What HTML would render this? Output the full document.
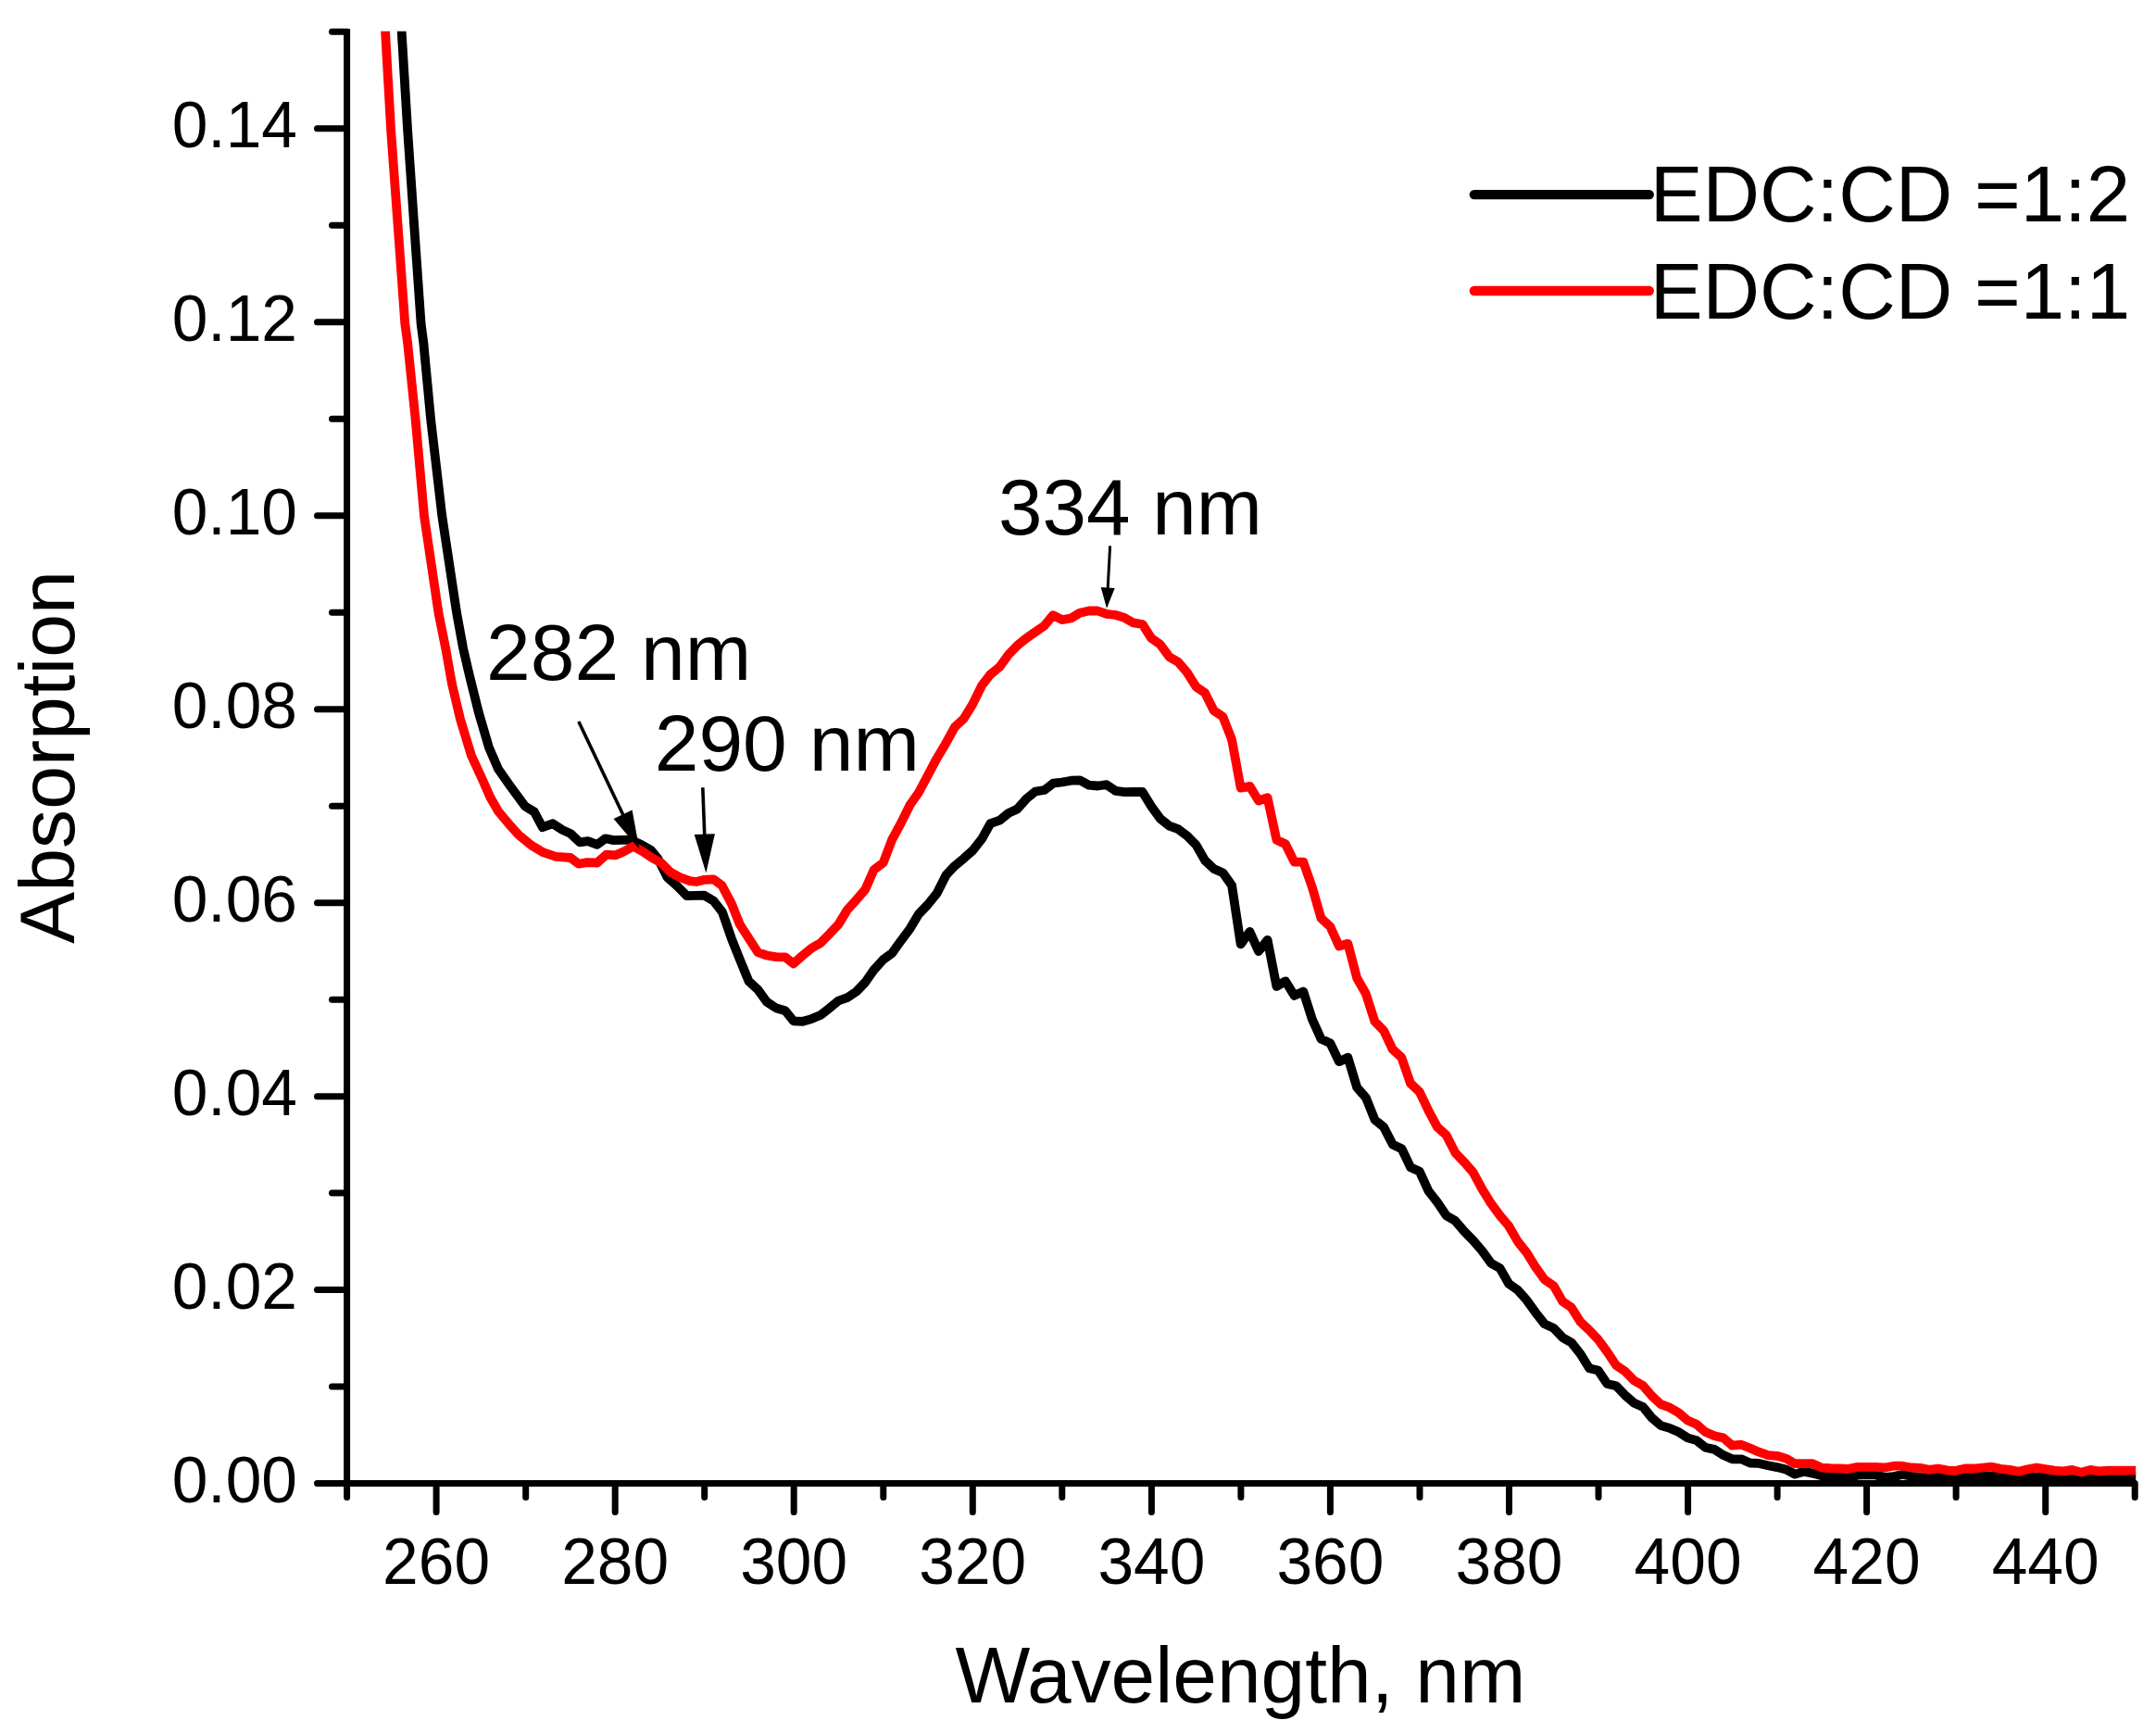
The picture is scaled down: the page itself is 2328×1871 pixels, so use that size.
<!DOCTYPE html>
<html lang="en"><head><meta charset="utf-8"><title>Absorption spectra</title>
<style>html,body{margin:0;padding:0;background:#fff}svg{display:block}text{font-family:"Liberation Sans",Arial,sans-serif;fill:#000}</style></head><body>
<svg width="2328" height="1871" viewBox="0 0 2328 1871">
<rect width="2328" height="1871" fill="#fff"/>
<defs><clipPath id="plot"><rect x="374.6" y="33.8" width="1931.6" height="1577.3"/></clipPath></defs>
<g clip-path="url(#plot)" fill="none" stroke-linejoin="round" stroke-linecap="butt" stroke-width="9.8">
<path stroke="#000" d="M429.1 -40.0 L433.5 31.2 L440.1 140.3 L447.3 244.9 L454.6 349.5 L457.3 370.0 L465.1 452.4 L477.3 557.0 L493.1 661.7 L500.1 700.0 L506.8 728.9 L516.8 769.0 L527.9 806.9 L538.0 830.2 L551.3 849.2 L566.9 870.3 L576.9 876.5 L585.8 893.2 L597.0 889.2 L607.0 895.9 L615.9 899.9 L625.9 909.3 L634.8 908.2 L644.8 911.9 L653.7 905.3 L662.6 907.1 L680.4 906.6 L691.6 911.5 L702.7 917.7 L710.5 927.1 L720.5 947.1 L731.7 957.1 L741.7 967.2 L760.6 966.7 L770.6 972.7 L780.0 984.8 L790.0 1013.7 L798.9 1036.0 L808.5 1059.4 L818.3 1068.3 L827.9 1081.6 L837.9 1088.3 L847.9 1091.2 L856.8 1102.3 L866.8 1102.8 L876.2 1100.1 L885.8 1096.1 L895.8 1088.3 L905.3 1080.5 L914.7 1077.2 L924.7 1070.5 L934.3 1060.5 L943.6 1047.1 L953.7 1036.0 L963.0 1029.3 L972.6 1016.0 L982.6 1002.6 L991.9 987.0 L1001.5 977.0 L1011.5 964.7 L1021.6 944.7 L1031.1 934.7 L1040.5 926.9 L1050.5 918.0 L1060.1 905.8 L1069.4 889.1 L1079.4 885.7 L1089.0 877.9 L1098.4 873.5 L1108.4 862.3 L1118.0 854.5 L1127.8 853.0 L1137.3 845.6 L1146.9 844.5 L1156.7 842.7 L1165.9 842.3 L1175.7 847.6 L1185.3 848.5 L1194.9 847.2 L1204.7 853.9 L1214.2 855.2 L1223.8 854.8 L1233.6 855.0 L1243.2 870.6 L1252.8 883.9 L1262.6 891.7 L1272.1 895.1 L1281.8 902.4 L1291.6 912.4 L1301.2 929.1 L1310.7 938.0 L1320.5 942.4 L1330.1 955.8 L1339.7 1019.3 L1349.5 1005.9 L1359.0 1027.1 L1368.6 1014.8 L1378.4 1064.9 L1388.0 1059.3 L1397.6 1074.9 L1407.3 1070.5 L1416.9 1100.5 L1426.5 1121.7 L1436.3 1126.1 L1445.9 1146.2 L1455.4 1141.7 L1465.2 1174.0 L1475.0 1185.2 L1484.5 1209.0 L1494.1 1216.8 L1503.9 1235.7 L1513.5 1240.2 L1523.0 1260.2 L1532.8 1264.7 L1542.4 1285.8 L1552.0 1298.1 L1561.8 1312.5 L1571.4 1318.1 L1580.9 1329.2 L1590.7 1339.2 L1600.3 1350.4 L1609.9 1363.7 L1619.7 1369.3 L1629.2 1386.0 L1638.8 1392.7 L1648.6 1403.8 L1658.2 1417.2 L1667.8 1429.4 L1677.6 1433.9 L1687.1 1443.9 L1696.7 1449.4 L1706.5 1461.7 L1716.1 1477.3 L1725.6 1479.5 L1735.4 1494.0 L1745.0 1496.2 L1754.6 1506.2 L1764.5 1514.8 L1774.1 1519.0 L1783.7 1530.8 L1793.4 1539.1 L1803.0 1541.9 L1812.6 1546.1 L1822.3 1552.4 L1831.9 1555.1 L1841.5 1562.8 L1851.3 1564.9 L1860.9 1571.1 L1870.5 1575.3 L1880.2 1575.3 L1889.8 1579.5 L1899.4 1579.9 L1909.2 1582.3 L1918.8 1584.1 L1928.4 1586.4 L1938.1 1591.6 L1947.7 1588.8 L1957.3 1590.6 L1967.1 1593.4 L1976.7 1594.4 L1986.4 1594.8 L1996.0 1595.2 L2005.6 1592.7 L2015.3 1592.0 L2024.9 1592.4 L2034.9 1594.8 L2044.6 1594.1 L2054.2 1592.0 L2063.9 1593.8 L2073.5 1594.9 L2083.2 1595.5 L2092.8 1594.4 L2102.5 1595.5 L2112.1 1595.8 L2121.8 1594.7 L2131.4 1594.4 L2141.1 1593.8 L2150.8 1593.5 L2160.4 1594.7 L2170.1 1595.5 L2179.7 1596.0 L2189.4 1595.2 L2199.0 1594.4 L2208.7 1594.9 L2218.3 1595.5 L2228.0 1596.0 L2237.6 1595.5 L2247.3 1596.6 L2256.9 1595.5 L2266.6 1595.8 L2276.2 1595.5 L2285.9 1595.5 L2295.5 1595.5 L2305.2 1595.5 L2320.0 1595.5"/>
<path stroke="#f00" d="M411.8 -40.0 L415.9 31.2 L422.1 140.3 L429.7 244.9 L437.3 349.5 L440.1 370.0 L448.6 452.4 L458.0 557.0 L473.5 661.7 L481.2 700.0 L487.9 737.8 L496.8 775.7 L509.0 815.8 L521.3 842.5 L529.1 860.3 L538.0 875.9 L549.1 889.2 L560.2 901.5 L573.6 912.6 L586.9 920.4 L600.3 924.9 L615.9 926.0 L624.8 932.7 L633.7 931.1 L644.8 931.5 L654.8 922.6 L664.9 923.3 L673.8 919.3 L683.8 913.7 L693.8 919.3 L703.8 926.0 L713.8 931.5 L723.9 941.6 L733.9 947.1 L745.0 951.1 L751.7 952.0 L760.6 949.8 L770.6 949.4 L779.5 956.0 L790.0 975.9 L798.9 998.1 L808.9 1013.7 L818.3 1028.2 L827.9 1031.5 L837.9 1033.1 L847.9 1033.3 L856.8 1040.4 L866.8 1031.5 L876.2 1023.7 L885.8 1018.2 L895.8 1008.2 L905.3 998.1 L914.7 982.6 L924.7 971.4 L934.3 960.3 L943.6 939.1 L953.7 931.4 L963.0 906.9 L972.6 889.1 L982.6 869.0 L991.9 855.7 L1001.5 837.8 L1011.5 818.9 L1021.2 802.7 L1031.0 784.9 L1040.6 776.0 L1050.2 760.4 L1060.0 740.3 L1069.5 728.1 L1079.1 720.3 L1088.9 706.9 L1098.5 696.9 L1108.1 689.1 L1117.8 682.4 L1127.4 675.8 L1137.0 664.2 L1146.8 669.1 L1156.4 667.5 L1165.9 661.7 L1175.7 659.5 L1185.3 659.5 L1194.9 662.9 L1204.7 664.0 L1214.2 666.9 L1223.8 672.4 L1233.6 674.0 L1243.2 689.1 L1252.8 695.8 L1262.6 709.2 L1272.1 714.7 L1281.7 725.9 L1291.5 741.4 L1301.1 748.1 L1310.6 767.1 L1320.4 773.7 L1330.0 798.2 L1339.7 850.7 L1349.5 848.9 L1359.0 864.5 L1368.6 861.2 L1378.4 906.8 L1388.0 911.3 L1397.6 930.6 L1407.3 930.6 L1416.9 958.0 L1426.5 991.4 L1436.3 1000.3 L1445.9 1021.5 L1455.4 1018.8 L1465.2 1056.0 L1474.8 1072.7 L1484.4 1102.7 L1494.2 1112.8 L1503.7 1132.8 L1513.3 1141.7 L1523.0 1169.6 L1532.8 1178.9 L1542.4 1199.0 L1552.0 1216.8 L1561.8 1225.7 L1571.4 1244.6 L1580.9 1254.6 L1590.7 1265.8 L1600.3 1283.6 L1609.9 1299.2 L1619.7 1312.5 L1629.2 1323.7 L1638.8 1340.4 L1648.6 1352.6 L1658.2 1368.2 L1667.8 1381.5 L1677.6 1388.2 L1687.1 1404.9 L1696.7 1411.6 L1706.5 1427.2 L1716.1 1436.1 L1725.6 1446.1 L1735.4 1459.5 L1745.0 1473.9 L1754.6 1480.6 L1764.5 1490.4 L1774.1 1496.0 L1783.7 1507.1 L1793.4 1516.2 L1803.0 1519.7 L1812.6 1525.2 L1822.3 1533.6 L1831.9 1537.7 L1841.5 1546.1 L1851.3 1550.3 L1860.9 1552.4 L1870.5 1560.7 L1880.2 1559.7 L1889.8 1563.5 L1899.4 1567.7 L1909.2 1571.1 L1918.8 1571.8 L1928.4 1574.6 L1938.1 1580.2 L1947.7 1580.2 L1957.3 1580.2 L1967.1 1584.6 L1976.7 1585.1 L1986.4 1585.3 L1996.0 1585.8 L2005.6 1583.9 L2015.3 1583.9 L2024.9 1583.9 L2034.9 1584.5 L2044.6 1582.7 L2054.2 1582.7 L2063.9 1584.5 L2073.5 1584.8 L2083.2 1586.9 L2092.8 1585.5 L2102.5 1587.3 L2112.1 1587.8 L2121.8 1585.5 L2131.4 1585.5 L2141.1 1584.5 L2150.8 1583.7 L2160.4 1585.9 L2170.1 1586.9 L2179.7 1588.7 L2189.4 1586.2 L2199.0 1584.5 L2208.7 1586.2 L2218.3 1587.6 L2228.0 1588.3 L2237.6 1586.9 L2247.3 1589.6 L2256.9 1586.9 L2266.6 1588.3 L2276.2 1587.6 L2285.9 1587.6 L2295.5 1587.6 L2305.2 1587.6 L2320.0 1587.6"/>
</g>
<g stroke="#000" stroke-width="7.0" stroke-linecap="round" fill="none">
<path d="M374.6 31.3 V1601.6 H2306.7" stroke-linejoin="miter" stroke-linecap="butt"/>
<path d="M374.6 1601.6 H342.5 M374.6 1497.1 H358.5 M374.6 1392.6 H342.5 M374.6 1288.1 H358.5 M374.6 1183.7 H342.5 M374.6 1079.2 H358.5 M374.6 974.7 H342.5 M374.6 870.2 H358.5 M374.6 765.7 H342.5 M374.6 661.2 H358.5 M374.6 556.7 H342.5 M374.6 452.2 H358.5 M374.6 347.8 H342.5 M374.6 243.3 H358.5 M374.6 138.8 H342.5 M374.6 34.3 H358.5 M374.6 1601.6 V1616.6 M471.1 1601.6 V1632.6 M567.7 1601.6 V1616.6 M664.2 1601.6 V1632.6 M760.7 1601.6 V1616.6 M857.2 1601.6 V1632.6 M953.8 1601.6 V1616.6 M1050.3 1601.6 V1632.6 M1146.8 1601.6 V1616.6 M1243.4 1601.6 V1632.6 M1339.9 1601.6 V1616.6 M1436.4 1601.6 V1632.6 M1533.0 1601.6 V1616.6 M1629.5 1601.6 V1632.6 M1726.0 1601.6 V1616.6 M1822.6 1601.6 V1632.6 M1919.1 1601.6 V1616.6 M2015.6 1601.6 V1632.6 M2112.1 1601.6 V1616.6 M2208.7 1601.6 V1632.6 M2305.2 1601.6 V1616.6"/>
</g>
<g font-size="69.5" text-anchor="end">
<text x="321" y="1622.1">0.00</text>
<text x="321" y="1413.1">0.02</text>
<text x="321" y="1204.2">0.04</text>
<text x="321" y="995.2">0.06</text>
<text x="321" y="786.2">0.08</text>
<text x="321" y="577.2">0.10</text>
<text x="321" y="368.3">0.12</text>
<text x="321" y="159.3">0.14</text>
</g>
<g font-size="69.5" text-anchor="middle">
<text x="471.1" y="1709.5">260</text>
<text x="664.2" y="1709.5">280</text>
<text x="857.2" y="1709.5">300</text>
<text x="1050.3" y="1709.5">320</text>
<text x="1243.4" y="1709.5">340</text>
<text x="1436.4" y="1709.5">360</text>
<text x="1629.5" y="1709.5">380</text>
<text x="1822.6" y="1709.5">400</text>
<text x="2015.6" y="1709.5">420</text>
<text x="2208.7" y="1709.5">440</text>
</g>
<text x="1339.4" y="1838" font-size="85.7" text-anchor="middle">Wavelength, nm</text>
<text transform="translate(80.3 817.6) rotate(-90)" font-size="84.3" text-anchor="middle">Absorption</text>
<text x="525.1" y="733.8" font-size="85.8">282 nm</text>
<text x="706.7" y="832.1" font-size="85.8">290 nm</text>
<text x="1078" y="577.1" font-size="85.4">334 nm</text>
<text x="1781.7" y="238.7" font-size="85.2">EDC:CD =1:2</text>
<text x="1781.7" y="343.7" font-size="85.2">EDC:CD =1:1</text>
<g stroke-width="10.3" stroke-linecap="round"><path d="M1591.8 210.1 H1780.8" stroke="#000"/><path d="M1591.8 314 H1780.8" stroke="#f00"/></g>
<path d="M624.8 779.0 L673.4 881.1" stroke="#000" stroke-width="3.6" fill="none"/><path d="M690.3 916.6 L662.5 884.1 L682.6 874.5 Z" fill="#000"/>
<path d="M758.8 850.3 L760.8 902.6" stroke="#000" stroke-width="3.6" fill="none"/><path d="M762.4 942.6 L749.7 901.1 L771.9 900.2 Z" fill="#000"/>
<path d="M1198.6 589.4 L1196.1 636.5" stroke="#000" stroke-width="3.0" fill="none"/><path d="M1195.0 656.7 L1188.7 634.1 L1203.7 634.9 Z" fill="#000"/>
</svg></body></html>
